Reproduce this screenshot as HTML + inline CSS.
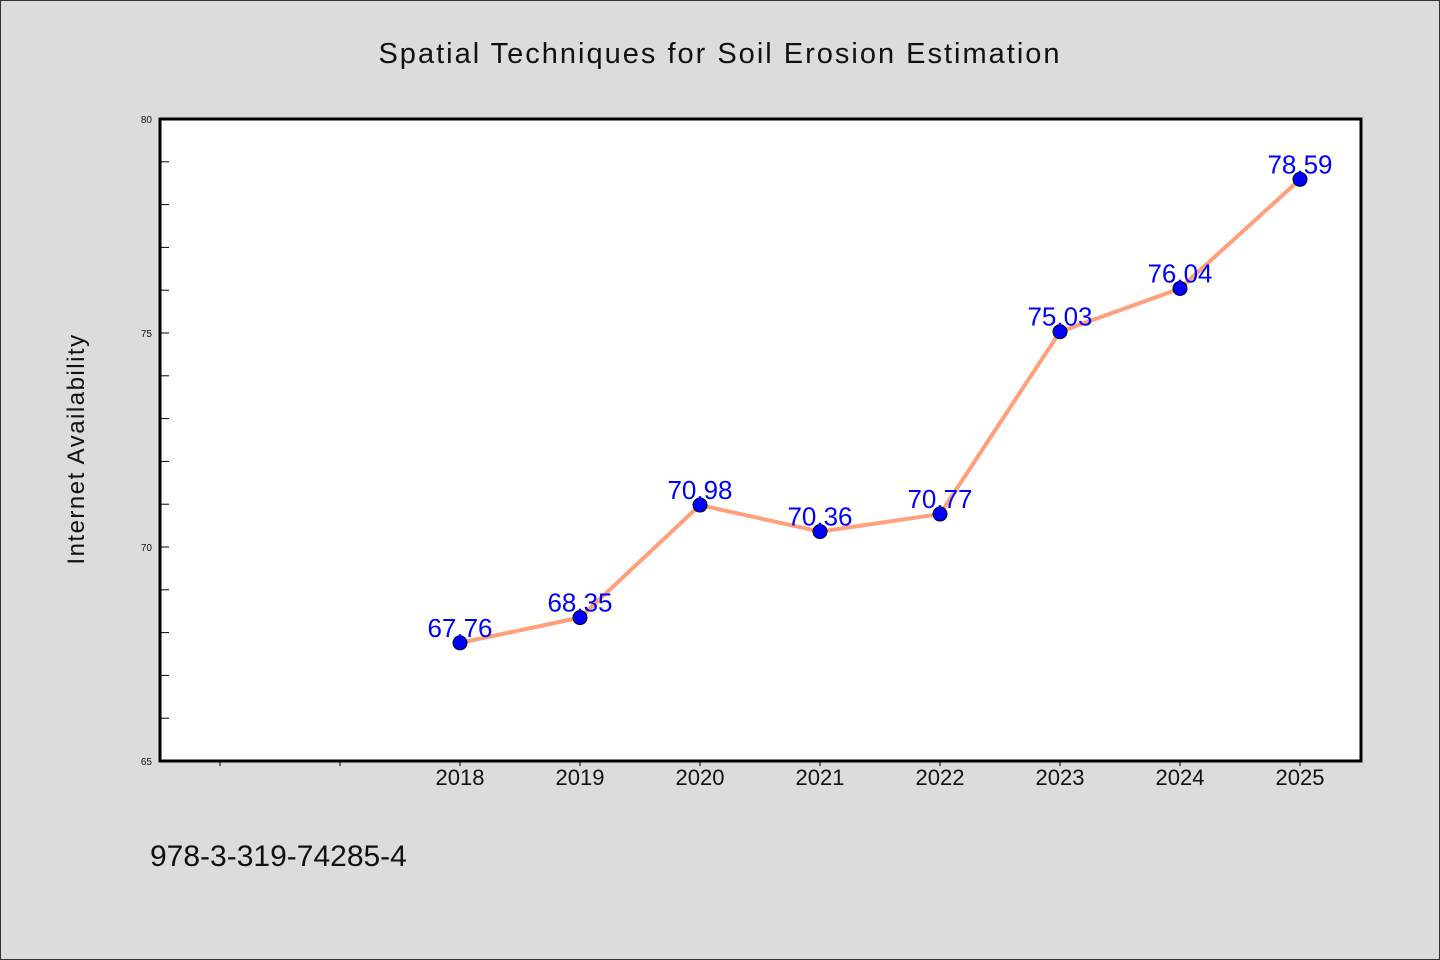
<!DOCTYPE html>
<html><head><meta charset="utf-8"><style>
body{margin:0;background:#dcdcdc;}
svg{display:block;font-family:"WenQuanYi Zen Hei","Liberation Sans",sans-serif;}
</style></head><body>
<svg width="1440" height="960" xmlns="http://www.w3.org/2000/svg">
<rect x="0.5" y="0.5" width="1439" height="959" fill="#dcdcdc" stroke="#333"/>
<text x="720" y="63" text-anchor="middle" font-size="29" letter-spacing="2" fill="#111">Spatial Techniques for Soil Erosion Estimation</text>
<rect x="160" y="119" width="1201" height="642" fill="#fff" stroke="#000" stroke-width="3"/>
<text transform="translate(84,449) rotate(-90)" text-anchor="middle" font-size="24" letter-spacing="1.5" fill="#111">Internet Availability</text>
<text x="150" y="866" font-size="30" fill="#111">978-3-319-74285-4</text>
<g id="axes"></g>
<g id="marks"></g>
</svg>
<script>
const years=[2018,2019,2020,2021,2022,2023,2024,2025];
const values=[67.76,68.35,70.98,70.36,70.77,75.03,76.04,78.59];
const yTickLabels=[65,70,75,80];
const xTickYears=[2016,2017,2018,2019,2020,2021,2022,2023,2024,2025];
const NS="http://www.w3.org/2000/svg";
const X=v=>160+(v-2015.5)*120;
const Y=v=>761-(v-65)*42.8;
const axes=document.getElementById('axes'),marks=document.getElementById('marks');
function mk(tag,a,p){const e=document.createElementNS(NS,tag);for(const k in a)e.setAttribute(k,a[k]);p.appendChild(e);return e;}
for(let v=66;v<80;v++){
 const t=mk('line',{x1:160,x2:169,y1:Y(v),y2:Y(v),stroke:'#000','stroke-width':1},axes);
 
 
}
yTickLabels.forEach(v=>{
 const t=mk('text',{x:152,y:Y(v)+4,'text-anchor':'end','font-size':10,fill:'#111'},axes);
 t.textContent=v;
 
 
});
xTickYears.forEach(v=>{
 const t=mk('line',{x1:X(v),x2:X(v),y1:761,y2:766,stroke:'#000','stroke-width':1},axes);
 
 
});
years.forEach(v=>{
 const t=mk('text',{x:X(v),y:785,'text-anchor':'middle','font-size':22,fill:'#111'},axes);
 t.textContent=v;
 
 
});
const line=mk('polyline',{points:years.map((y,i)=>X(y)+','+Y(values[i])).join(' '),fill:'none',stroke:'#ffa07a','stroke-width':4,'stroke-linejoin':'round'},marks);


years.forEach((y,i)=>{
 const c=mk('circle',{cx:X(y),cy:Y(values[i]),r:7,fill:'#0000ff',stroke:'#000','stroke-width':1},marks);
 
 
 const t=mk('text',{x:X(y),y:Y(values[i])-6,'text-anchor':'middle','font-size':26,fill:'#0000ff'},marks);
 t.textContent=values[i].toFixed(2);
 
 
});
</script>
</body></html>
